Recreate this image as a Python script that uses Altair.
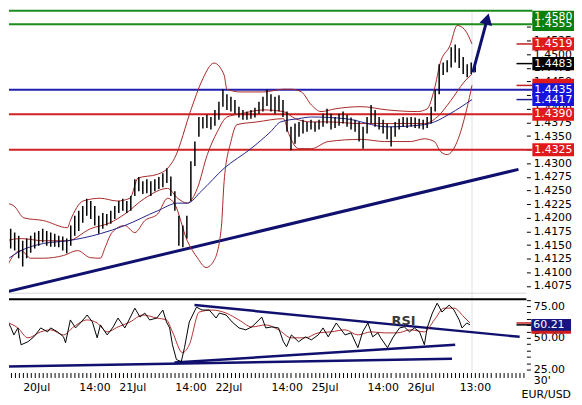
import altair as alt
import pandas as pd

# ---------------- layout (styling) ----------------
W = 522
H1 = 290
H2 = 75
X_DOMAIN = [-3.42, 125.79]
P_DOMAIN = [1.40527, 1.4580]
R_DOMAIN = [22.66, 81.25]
FONT = "DejaVu Sans"

# ---------------- data ----------------
# hourly price bars, hours since 20Jul 00:00 (first bar at -5)
bar_hi = [1.4204, 1.4186, 1.4180, 1.4173, 1.4167, 1.4158, 1.4162, 1.4167, 1.4173, 1.4176,
          1.4180, 1.4176, 1.4173, 1.4171, 1.4167, 1.4166, 1.4162, 1.4186, 1.4204, 1.4213,
          1.4222, 1.4235, 1.4231, 1.4222, 1.4204, 1.4209, 1.4207, 1.4213, 1.4222, 1.4231,
          1.4235, 1.4231, 1.4240, 1.4271, 1.4275, 1.4267, 1.4271, 1.4267, 1.4271, 1.4275,
          1.4282, 1.4291, 1.4276, 1.4249, 1.4204, 1.4186, 1.4204, 1.4304, 1.4340, 1.4385,
          1.4385, 1.4389, 1.4385, 1.4398, 1.4413, 1.4436, 1.4427, 1.4422, 1.4416, 1.4404,
          1.4398, 1.4395, 1.4398, 1.4402, 1.4413, 1.4422, 1.4435, 1.4427, 1.4422, 1.4425,
          1.4416, 1.4395, 1.4367, 1.4373, 1.4376, 1.4380, 1.4376, 1.4380, 1.4376, 1.4380,
          1.4391, 1.4400, 1.4391, 1.4385, 1.4391, 1.4395, 1.4389, 1.4384, 1.4380, 1.4376,
          1.4367, 1.4385, 1.4407, 1.4398, 1.4385, 1.4380, 1.4373, 1.4367, 1.4376, 1.4382,
          1.4385, 1.4384, 1.4385, 1.4384, 1.4382, 1.4380, 1.4385, 1.4404, 1.4435, 1.4482,
          1.4485, 1.4489, 1.4513, 1.4518, 1.4511, 1.4495, 1.4482, 1.4485, 1.4485]
bar_lo = [1.4167, 1.4149, 1.4144, 1.4140, 1.4126, 1.4111, 1.4126, 1.4136, 1.4144, 1.4149,
          1.4155, 1.4149, 1.4147, 1.4147, 1.4146, 1.4140, 1.4135, 1.4149, 1.4167, 1.4176,
          1.4191, 1.4204, 1.4198, 1.4186, 1.4171, 1.4180, 1.4186, 1.4189, 1.4198, 1.4209,
          1.4213, 1.4209, 1.4213, 1.4240, 1.4249, 1.4244, 1.4245, 1.4240, 1.4249, 1.4253,
          1.4256, 1.4264, 1.4240, 1.4213, 1.4149, 1.4146, 1.4162, 1.4231, 1.4295, 1.4349,
          1.4364, 1.4365, 1.4362, 1.4369, 1.4380, 1.4404, 1.4398, 1.4395, 1.4391, 1.4384,
          1.4380, 1.4380, 1.4382, 1.4384, 1.4391, 1.4395, 1.4405, 1.4395, 1.4391, 1.4395,
          1.4385, 1.4358, 1.4324, 1.4336, 1.4349, 1.4355, 1.4358, 1.4362, 1.4358, 1.4362,
          1.4367, 1.4373, 1.4362, 1.4365, 1.4369, 1.4373, 1.4367, 1.4362, 1.4358, 1.4340,
          1.4327, 1.4355, 1.4373, 1.4367, 1.4362, 1.4355, 1.4344, 1.4331, 1.4349, 1.4362,
          1.4367, 1.4365, 1.4367, 1.4365, 1.4364, 1.4362, 1.4365, 1.4373, 1.4395, 1.4427,
          1.4462, 1.4467, 1.4476, 1.4485, 1.4475, 1.4464, 1.4458, 1.4464, 1.4467]
bar_t = list(range(-5, -5 + len(bar_hi)))

# Bollinger bands and moving average
bb_up_t = [-4.2, -2.2, 0.3, 5.2, 11.2, 11.9, 15.1, 19.4, 23.6, 26.8, 28.8, 33.7, 36.2, 37.9,
           42.1, 44.6, 47.8, 50.3, 51.0, 54.5, 60.2, 65.1, 67.1, 69.6, 72.1, 74.5, 78.0,
           84.5, 91.1, 98.6, 101.0, 102.8, 104.3, 106.7, 108.5, 110.4, 112.2]
bb_up_v = [1.4227, 1.4222, 1.4200, 1.4195, 1.4182, 1.4195, 1.4231, 1.4236, 1.4231, 1.4236,
           1.4273, 1.4280, 1.4291, 1.4309, 1.4400, 1.4449, 1.4484, 1.4462, 1.4436, 1.4431,
           1.4431, 1.4436, 1.4436, 1.4431, 1.4407, 1.4395, 1.4400, 1.4404, 1.4398, 1.4395,
           1.4400, 1.4436, 1.4485, 1.4516, 1.4553, 1.4545, 1.4519]
bb_lo_t = [-4.2, -3.4, -0.4, 2.0, 5.2, 10.2, 13.7, 16.9, 19.4, 20.6, 22.3, 25.5, 28.0, 30.5,
           33.7, 36.2, 37.9, 41.1, 43.6, 45.8, 47.8, 49.6, 50.3, 52.0, 53.5, 58.5, 65.1,
           66.4, 68.9, 72.1, 76.3, 84.5, 90.4, 96.8, 100.3, 102.8, 104.3, 106.0, 108.5,
           110.9, 112.2]
bb_lo_v = [1.4085, 1.4118, 1.4140, 1.4126, 1.4126, 1.4131, 1.4140, 1.4127, 1.4126, 1.4146,
           1.4173, 1.4186, 1.4173, 1.4195, 1.4207, 1.4236, 1.4226, 1.4158, 1.4127, 1.4109,
           1.4122, 1.4182, 1.4267, 1.4340, 1.4371, 1.4376, 1.4382, 1.4355, 1.4327, 1.4327,
           1.4340, 1.4344, 1.4340, 1.4340, 1.4345, 1.4340, 1.4322, 1.4316, 1.4340, 1.4400,
           1.4443]
bb_mid_t = [-4.2, -0.4, 5.2, 11.2, 16.9, 21.8, 25.5, 30.5, 36.2, 38.7, 41.1, 43.6, 46.1,
            48.6, 51.0, 54.5, 60.2, 65.1, 68.1, 72.1, 76.3, 84.5, 92.9, 100.3, 103.5,
            106.7, 110.2, 112.2]
bb_mid_v = [1.4158, 1.4162, 1.4158, 1.4158, 1.4180, 1.4191, 1.4207, 1.4236, 1.4254, 1.4236,
            1.4227, 1.4254, 1.4316, 1.4358, 1.4385, 1.4391, 1.4398, 1.4395, 1.4382, 1.4376,
            1.4376, 1.4373, 1.4373, 1.4373, 1.4385, 1.4413, 1.4449, 1.4464]
ma_t = [-4.2, -0.4, 5.2, 11.2, 19.4, 25.5, 33.7, 38.7, 41.1, 44.6, 50.3, 57.0, 61.9, 64.4,
        68.9, 72.1, 80.5, 91.1, 100.3, 102.8, 106.7, 112.2]
ma_v = [1.4122, 1.4140, 1.4153, 1.4158, 1.4171, 1.4186, 1.4213, 1.4227, 1.4227, 1.4249,
        1.4291, 1.4327, 1.4358, 1.4376, 1.4382, 1.4385, 1.4382, 1.4367, 1.4371, 1.4376,
        1.4391, 1.4417]

# support trendline and projected arrow
trend_t = [-4.2, 123.8]
trend_v = [1.4064, 1.4289]
arrow_t = [112.4, 115.9]
arrow_v = [1.4467, 1.4562]
arrow_head_t = [116.0]
arrow_head_v = [1.4565]

# horizontal levels
level_values = [1.4580, 1.4555, 1.4435, 1.4390, 1.4325]
level_colors = ["#1c8c1c", "#1c8c1c", "#2020b0", "#d02222", "#d02222"]

# price tags on the right
tag_values = [1.4580, 1.4555, 1.4519, 1.4483, 1.4443, 1.4435, 1.4417, 1.4390, 1.4325]
tag_text = ["1.4580", "1.4555", "1.4519", "1.4483", "", "1.4435", "1.4417", "1.4390", "1.4325"]
tag_colors = ["#0b7f0b", "#0b7f0b", "#e01a1a", "#000000", "#e01a1a", "#1414dc", "#1414dc",
              "#e01a1a", "#e01a1a"]
marker_values = [1.4519, 1.4483, 1.4443, 1.4417]
marker_colors = ["#c02020", "#000000", "#c02020", "#1f1f8f"]

now_t = [112.2]

# RSI and its signal line
rsi_t = [-4.2, -2.9, -2.2, -1.2, -0.4, 1.3, 2.8, 4.5, 6.2, 7.0, 8.7, 10.2, 10.7, 11.9, 13.2,
         14.4, 16.1, 17.4, 18.6, 19.4, 21.1, 22.6, 23.8, 25.5, 26.3, 28.0, 29.3, 30.5, 31.7,
         33.5, 35.0, 35.9, 36.7, 37.4, 38.4, 39.6, 40.4, 41.6, 43.4, 44.8, 46.6, 48.3, 49.1,
         50.8, 52.3, 54.0, 55.7, 57.2, 58.5, 59.7, 60.7, 62.2, 63.9, 65.1, 65.9, 67.1, 68.9,
         70.6, 72.1, 73.8, 75.0, 76.3, 78.3, 80.5, 82.0, 83.7, 84.9, 86.2, 87.4, 88.7, 89.4,
         91.1, 92.4, 94.1, 95.3, 96.6, 97.8, 99.1, 100.3, 101.0, 102.3, 103.5, 104.7, 106.5,
         107.7, 109.0, 109.7, 110.9, 111.7]
rsi_v = [65.6, 57.8, 52.3, 57.8, 44.5, 46.9, 50.8, 57.8, 54.7, 57.8, 54.7, 50.8, 46.1, 64.1,
         57.8, 61.7, 68.0, 62.5, 50.0, 60.2, 52.3, 58.6, 65.6, 57.8, 62.5, 73.4, 66.4, 69.5,
         64.1, 65.6, 71.9, 62.5, 57.8, 44.5, 32.8, 31.3, 42.2, 62.5, 74.2, 71.9, 71.9, 65.6,
         69.5, 68.0, 62.5, 57.8, 56.3, 58.6, 62.5, 66.4, 57.8, 58.6, 57.8, 46.9, 43.0, 52.3,
         46.9, 50.8, 48.4, 52.3, 57.8, 50.8, 61.7, 52.3, 53.9, 42.2, 54.7, 61.7, 50.8, 53.9,
         50.0, 42.2, 50.0, 57.8, 58.6, 54.7, 57.8, 54.7, 44.5, 57.8, 69.5, 77.3, 70.3, 75.8,
         71.9, 64.1, 57.8, 61.7, 60.21]
sig_t = [-4.2, -1.2, 1.3, 4.5, 7.0, 10.2, 12.7, 16.1, 18.6, 21.1, 23.8, 26.8, 30.0, 33.5,
         35.9, 37.4, 39.9, 41.6, 44.1, 47.3, 50.8, 54.0, 57.2, 60.7, 63.9, 67.1, 70.6, 73.8,
         77.0, 80.5, 83.7, 87.0, 90.4, 93.6, 96.8, 100.3, 102.8, 105.2, 107.7, 110.2, 111.7]
sig_v = [62.5, 57.8, 50.0, 54.7, 56.3, 52.3, 58.6, 64.1, 61.7, 54.7, 58.6, 62.5, 68.0, 65.6,
         64.1, 54.7, 38.3, 44.5, 70.3, 71.9, 69.5, 64.1, 58.6, 60.2, 56.3, 50.0, 50.0, 53.9,
         54.7, 56.3, 52.3, 54.7, 53.9, 53.9, 56.3, 54.7, 64.1, 73.4, 73.4, 66.4, 61.7]
rsi_lines_seg = ["a", "a", "b", "b", "c", "c"]
rsi_lines_t = [42.9, 124.1, 37.9, 108.0, -4.2, 107.2]
rsi_lines_v = [75.8, 50.8, 30.5, 44.5, 27.3, 33.6]
rsi_tag_values = [57.9, 60.21]
rsi_tag_text = ["", "60.21"]
rsi_tag_colors = ["#d01c1c", "#16167e"]
rsi_marker_values = [61.7, 60.21]
rsi_marker_colors = ["#c02020", "#000000"]

# x axis labels
tick_hours = [0, 14, 24, 38, 48, 62, 72, 86, 96, 109]
tick_labels = ["20Jul", "14:00", "21Jul", "14:00", "22Jul", "14:00", "25Jul", "14:00",
               "26Jul", "13:00"]
price_ticks = [round(1.4075 + 0.0025 * k, 4) for k in range(20)]

# ---------------- helpers ----------------
xscale = alt.Scale(domain=X_DOMAIN, nice=False, zero=False)
pscale = alt.Scale(domain=P_DOMAIN, nice=False, zero=False)
rscale = alt.Scale(domain=R_DOMAIN, nice=False, zero=False)

price_axis = alt.Axis(orient="right", values=price_ticks, format=".4f", title=None,
                      grid=False, domain=False, tickSize=4, tickColor="black",
                      labelPadding=3, labelFont=FONT, labelFontSize=11,
                      labelColor="black", labelOverlap=False, labelBound=False, zindex=0)
rsi_axis = alt.Axis(orient="right", values=list(range(25, 81, 5)), title=None, grid=False,
                    domain=False, tickSize=4, tickColor="black", labelPadding=3,
                    labelFont=FONT, labelFontSize=11, labelColor="black",
                    labelOverlap=False, zindex=0,
                    labelExpr="datum.value % 25 == 0 ? format(datum.value, '.2f') : ''")
label_expr = "".join(f"datum.value == {h} ? '{l}' : " for h, l in zip(tick_hours, tick_labels)) + "''"
x_axis = alt.Axis(values=list(range(-3, 126)), labelExpr=label_expr, title=None, grid=False,
                  domain=False, tickSize=5, tickColor="black", tickWidth=1,
                  labelAlign="left", labelPadding=4, labelFont=FONT, labelFontSize=11,
                  labelColor="black", labelOverlap=False, labelFlush=False, labelBound=False)


def Xq(field="t", axis=None):
    return alt.X(f"{field}:Q", scale=xscale, axis=axis)


def Yp(field):
    return alt.Y(f"{field}:Q", scale=pscale, axis=price_axis)


def Yr(field):
    return alt.Y(f"{field}:Q", scale=rscale, axis=rsi_axis)


def line_df(ts, vs):
    return pd.DataFrame({"t": ts, "v": vs})


# ---------------- price panel ----------------
bars = pd.DataFrame({"t": bar_t, "hi": bar_hi, "lo": bar_lo})
levels = pd.DataFrame({"v": level_values, "c": level_colors})
tags = pd.DataFrame({"v": tag_values, "label": tag_text, "c": tag_colors})
markers = pd.DataFrame({"v": marker_values, "c": marker_colors})

now_rule = alt.Chart(pd.DataFrame({"t": now_t})).mark_rule(color="#dde2ea", strokeWidth=1).encode(x=Xq())
bottom_rule = alt.Chart(pd.DataFrame({"a": [0]})).mark_rule(color="#d8d8d8").encode(
    x=alt.value(0), x2=alt.value(W), y=alt.value(H1 - 5))
level_rules = alt.Chart(levels).mark_rule(strokeWidth=2).encode(
    y=Yp("v"), x=alt.value(0), x2=alt.value(W + 6), color=alt.Color("c:N", scale=None))
trend = alt.Chart(line_df(trend_t, trend_v)).mark_line(color="#10106e", strokeWidth=3, clip=True).encode(
    x=Xq(), y=Yp("v"))
bb_up = alt.Chart(line_df(bb_up_t, bb_up_v)).mark_line(color="#a82828", strokeWidth=1, interpolate="monotone", clip=True).encode(
    x=Xq(), y=Yp("v"))
bb_lo = alt.Chart(line_df(bb_lo_t, bb_lo_v)).mark_line(color="#a82828", strokeWidth=1, interpolate="monotone", clip=True).encode(
    x=Xq(), y=Yp("v"))
bb_mid = alt.Chart(line_df(bb_mid_t, bb_mid_v)).mark_line(color="#a82828", strokeWidth=1, interpolate="monotone", clip=True).encode(
    x=Xq(), y=Yp("v"))
ma = alt.Chart(line_df(ma_t, ma_v)).mark_line(color="#22228c", strokeWidth=1, interpolate="monotone", clip=True).encode(
    x=Xq(), y=Yp("v"))
bar_rules = alt.Chart(bars).mark_rule(color="black", strokeWidth=1.5, clip=True).encode(
    x=Xq(), y=Yp("lo"), y2="hi:Q")
arrow = alt.Chart(line_df(arrow_t, arrow_v)).mark_line(color="#10106e", strokeWidth=3).encode(
    x=Xq(), y=Yp("v"))
arrow_head = alt.Chart(line_df(arrow_head_t, arrow_head_v)).mark_point(
    shape="triangle-up", filled=True, size=170, angle=15, color="#10106e", opacity=1).encode(
    x=Xq(), y=Yp("v"))
marker_rules = alt.Chart(markers).mark_rule(strokeWidth=1.5).encode(
    y=Yp("v"), x=alt.value(W - 10), x2=alt.value(W + 6), color=alt.Color("c:N", scale=None))
tag_base = alt.Chart(tags).transform_calculate(
    center="min(datum.v, 1.4569)",
    top="min(datum.center + 0.0012, 1.4580)",
    bot="datum.center - 0.0012")
tag_boxes = tag_base.mark_rect().encode(
    y=Yp("top"), y2="bot:Q", x=alt.value(W + 6), x2=alt.value(W + 48),
    color=alt.Color("c:N", scale=None))
tag_texts = tag_base.mark_text(align="left", baseline="middle", font=FONT, fontSize=11,
                               color="white").encode(
    y=Yp("center"), x=alt.value(W + 8), text="label:N")

price_panel = alt.layer(
    now_rule, bottom_rule, level_rules, trend, bb_up, bb_lo, bb_mid, ma, bar_rules,
    arrow, arrow_head, marker_rules, tag_boxes, tag_texts
).properties(width=W, height=H1)

# ---------------- RSI panel ----------------
rsi_lines = pd.DataFrame({"seg": rsi_lines_seg, "t": rsi_lines_t, "v": rsi_lines_v})
rtags = pd.DataFrame({"v": rsi_tag_values, "label": rsi_tag_text, "c": rsi_tag_colors})
rmarkers = pd.DataFrame({"v": rsi_marker_values, "c": rsi_marker_colors})

r_now = alt.Chart(pd.DataFrame({"t": now_t})).mark_rule(color="#dde2ea", strokeWidth=1).encode(
    x=Xq(axis=x_axis))
r_top = alt.Chart(pd.DataFrame({"a": [0]})).mark_rule(color="black", strokeWidth=2).encode(
    x=alt.value(0), x2=alt.value(W), y=alt.value(1))
r_trend = alt.Chart(rsi_lines).mark_line(color="#10106e", strokeWidth=2.5, clip=True).encode(
    x=Xq(axis=x_axis), y=Yr("v"), detail="seg:N")
r_sig = alt.Chart(line_df(sig_t, sig_v)).mark_line(color="#b03030", strokeWidth=1, interpolate="monotone", clip=True).encode(
    x=Xq(axis=x_axis), y=Yr("v"))
r_rsi = alt.Chart(line_df(rsi_t, rsi_v)).mark_line(color="black", strokeWidth=1, clip=True).encode(
    x=Xq(axis=x_axis), y=Yr("v"))
r_label = alt.Chart(pd.DataFrame({"t": [95.1], "v": [63.3], "s": ["RSI"]})).mark_text(
    font=FONT, fontSize=13, fontWeight="bold", color="#3a3a3a").encode(
    x=Xq(axis=x_axis), y=Yr("v"), text="s:N")
r_markers = alt.Chart(rmarkers).mark_rule(strokeWidth=1.5).encode(
    y=Yr("v"), x=alt.value(W - 10), x2=alt.value(W + 5), color=alt.Color("c:N", scale=None))
rtag_base = alt.Chart(rtags).transform_calculate(top="datum.v + 4.6", bot="datum.v - 4.6")
r_boxes = rtag_base.mark_rect().encode(
    y=Yr("top"), y2="bot:Q", x=alt.value(W + 5), x2=alt.value(W + 45),
    color=alt.Color("c:N", scale=None))
r_texts = rtag_base.mark_text(align="left", baseline="middle", font=FONT, fontSize=11,
                              color="white").encode(
    y=Yr("v"), x=alt.value(W + 7), text="label:N")
corner1 = alt.Chart(pd.DataFrame({"s": ["30'"]})).mark_text(
    font=FONT, fontSize=11, color="black", align="center", baseline="middle").encode(
    x=alt.value(W + 16), y=alt.value(H2 + 9), text="s:N")
corner2 = alt.Chart(pd.DataFrame({"s": ["EUR/USD"]})).mark_text(
    font=FONT, fontSize=11, color="black", align="center", baseline="middle").encode(
    x=alt.value(W + 20), y=alt.value(H2 + 23), text="s:N")

rsi_panel = alt.layer(
    r_now, r_top, r_trend, r_sig, r_rsi, r_label, r_markers, r_boxes, r_texts, corner1, corner2
).properties(width=W, height=H2)

chart = alt.vconcat(price_panel, rsi_panel, spacing=0, bounds="flush").properties(
    padding=0, background="white"
).configure_view(stroke=None)

chart.save("out.html", embed_options={"renderer": "svg", "actions": False})
